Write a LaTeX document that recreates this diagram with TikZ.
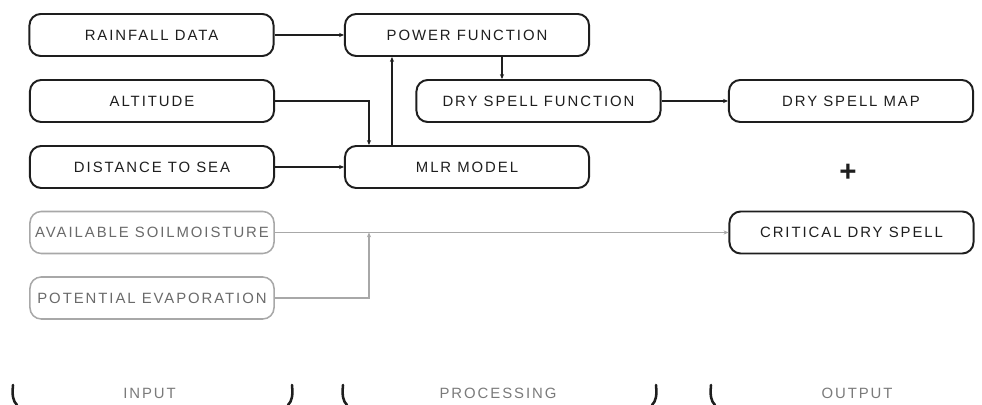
\documentclass[tikz,border=0pt]{standalone}
\usepackage{fontspec}
\setmainfont{Liberation Sans}
\newfontfamily\boxfont[LetterSpace=13]{Liberation Sans}
\usetikzlibrary{calc,arrows.meta}
\definecolor{inkblack}{HTML}{1E1E1E}
\definecolor{softline}{HTML}{A8A8A8}
\definecolor{softtext}{HTML}{6A6A6A}
\definecolor{stagegray}{HTML}{7A7A7A}
\tikzset{
  box/.style={draw=inkblack,line width=1.4pt,rounded corners=8pt,
    minimum width=6.1cm,minimum height=1.05cm,
    font=\boxfont\fontsize{10.6}{12}\selectfont,text=inkblack},
  softbox/.style={box,draw=softline,line width=1.1pt,text=softtext},
  flow/.style={draw=inkblack,line width=.75pt,-{Stealth[length=3.5pt,width=3pt]}},
  softflow/.style={draw=softline,line width=.75pt,-{Stealth[length=3.5pt,width=3pt]}},
  stagelabel/.style={font=\boxfont\fontsize{10.6}{12}\selectfont,text=stagegray},
  bracket/.style={line width=1.8pt,line cap=round,inkblack}
}

\begin{document}
\begin{tikzpicture}[x=0.025cm,y=-0.025cm]
\useasboundingbox (0,0) rectangle (982,405);
% inputs
\node[box] (rain) at (151.5,35) {RAINFALL DATA};
\node[box] (alt) at (152,101) {ALTITUDE};
\node[box] (dist) at (152,167) {DISTANCE TO SEA};
\node[softbox] (soil) at (152,232.5) {AVAILABLE SOILMOISTURE};
\node[softbox] (evap) at (152,298) {POTENTIAL EVAPORATION};
% processing
\node[box] (power) at (467,35) {POWER FUNCTION};
\node[box] (dsf) at (538.5,101) {DRY SPELL FUNCTION};
\node[box] (mlr) at (467,167) {MLR MODEL};
% outputs
\node[box] (dsm) at (851,101) {DRY SPELL MAP};
\node[font=\fontsize{21}{21}\bfseries\selectfont,text=inkblack] (plus) at (848,173) {+};
\node[box] (cds) at (851.5,232.5) {CRITICAL DRY SPELL};

\coordinate (altdrop) at ($(mlr.north west)+(25,0)$);
\coordinate (mlrrise) at ($(mlr.north west)+(48,0)$);
\coordinate (powdrop) at ($(power.south)+(35,0)$);

\draw[flow] (rain.east) -- (power.west);
\draw[flow] (alt.east) -| (altdrop);
\draw[flow] (mlrrise) -- (mlrrise |- power.south);
\draw[flow] (powdrop) -- (powdrop |- dsf.north);
\draw[flow] (dist.east) -- (mlr.west);
\draw[flow] (dsf.east) -- (dsm.west);
\draw[softflow] (soil.east) -- (cds.west);
\draw[softflow] (evap.east) -| (altdrop |- soil.east);

% stage labels
\node[stagelabel] (input) at (149.5,393) {INPUT};
\node[stagelabel] (processing) at (498,393) {PROCESSING};
\node[stagelabel] (output) at (857,393) {OUTPUT};
\foreach \x/\s in {13/1,292/-1,343/1,656/-1,711/1}
  \draw[bracket] (\x,385) .. controls (\x-\s,396) and (\x,401) .. (\x+4*\s,405);
\end{tikzpicture}
\end{document}
